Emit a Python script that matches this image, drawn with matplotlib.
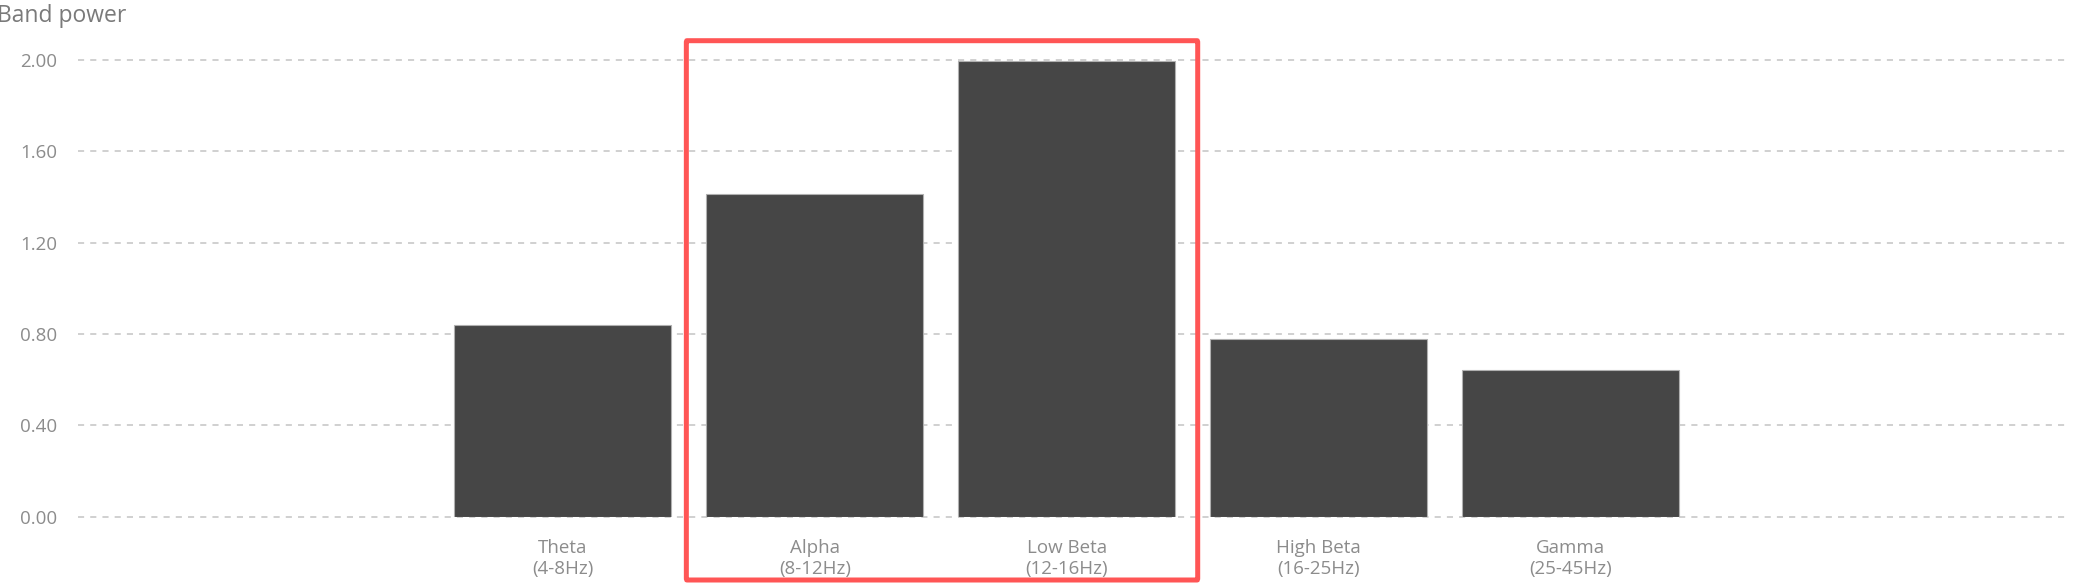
import matplotlib
matplotlib.use("Agg")
import matplotlib.pyplot as plt
from matplotlib.patches import FancyBboxPatch
from matplotlib.transforms import blended_transform_factory

# ---- data ----
band_names = ["Theta", "Alpha", "Low Beta", "High Beta", "Gamma"]
band_ranges = ["(4-8Hz)", "(8-12Hz)", "(12-16Hz)", "(16-25Hz)", "(25-45Hz)"]
band_power = [0.838, 1.415, 1.994, 0.778, 0.644]
y_ticks = [0.0, 0.4, 0.8, 1.2, 1.6, 2.0]
y_label = "Band power"
highlight = ["Alpha", "Low Beta"]

W, H = 2076, 585
fig = plt.figure(figsize=(W / 100, H / 100), dpi=100)
plt.rcParams['font.family'] = ['Open Sans', 'DejaVu Sans']

left_px, right_px = 78, 2065
top_px, bottom_px = 60, 516.7
ax = fig.add_axes([left_px / W, 1 - bottom_px / H,
                   (right_px - left_px) / W, (bottom_px - top_px) / H])

x = list(range(len(band_names)))
ax.bar(x, band_power, width=0.862, color="#464646",
       edgecolor="#b0b0b0", linewidth=0.8, zorder=3)

ax.set_xlim(-1.925, len(band_names) - 1 + 1.963)
ax.set_ylim(0, 2.0)

for s in ax.spines.values():
    s.set_visible(False)

ax.set_yticks(y_ticks)
ax.set_yticklabels([f"{v:.2f}" for v in y_ticks])
ax.yaxis.grid(True, color="#c4c4c4", linestyle=(0, (4, 4)), linewidth=1.1,
              zorder=0)
for gl in ax.get_ygridlines():
    gl.set_clip_on(False)
ax.set_axisbelow(True)
ax.tick_params(axis="y", length=0, pad=15, labelsize=13.5, labelcolor="#8c8c8c")

ax.set_xticks(x)
ax.set_xticklabels([f"{n}\n{r}" for n, r in zip(band_names, band_ranges)],
                   linespacing=1.25)
ax.tick_params(axis="x", length=0, pad=16, labelsize=13.5, labelcolor="#8c8c8c")

fig.text(-3 / W, 1 - 15.5 / H, y_label, ha="left", va="center",
         fontsize=16.5, color="#7a7a7a")

# highlight box around Alpha / Low Beta
i0 = band_names.index(highlight[0])
i1 = band_names.index(highlight[-1])
tr = blended_transform_factory(ax.transData, fig.transFigure)
x0 = i0 - 0.51
x1 = i1 + 0.52
y0 = 5 / H
y1 = 1 - 40.7 / H
box = FancyBboxPatch((x0, y0), x1 - x0, y1 - y0,
                     boxstyle="round,pad=0,rounding_size=0.003",
                     transform=tr, fill=False, edgecolor="#ff5555",
                     linewidth=3.6, clip_on=False, zorder=5,
                     mutation_aspect=1)
fig.add_artist(box)

fig.savefig("out.png", dpi=100)
